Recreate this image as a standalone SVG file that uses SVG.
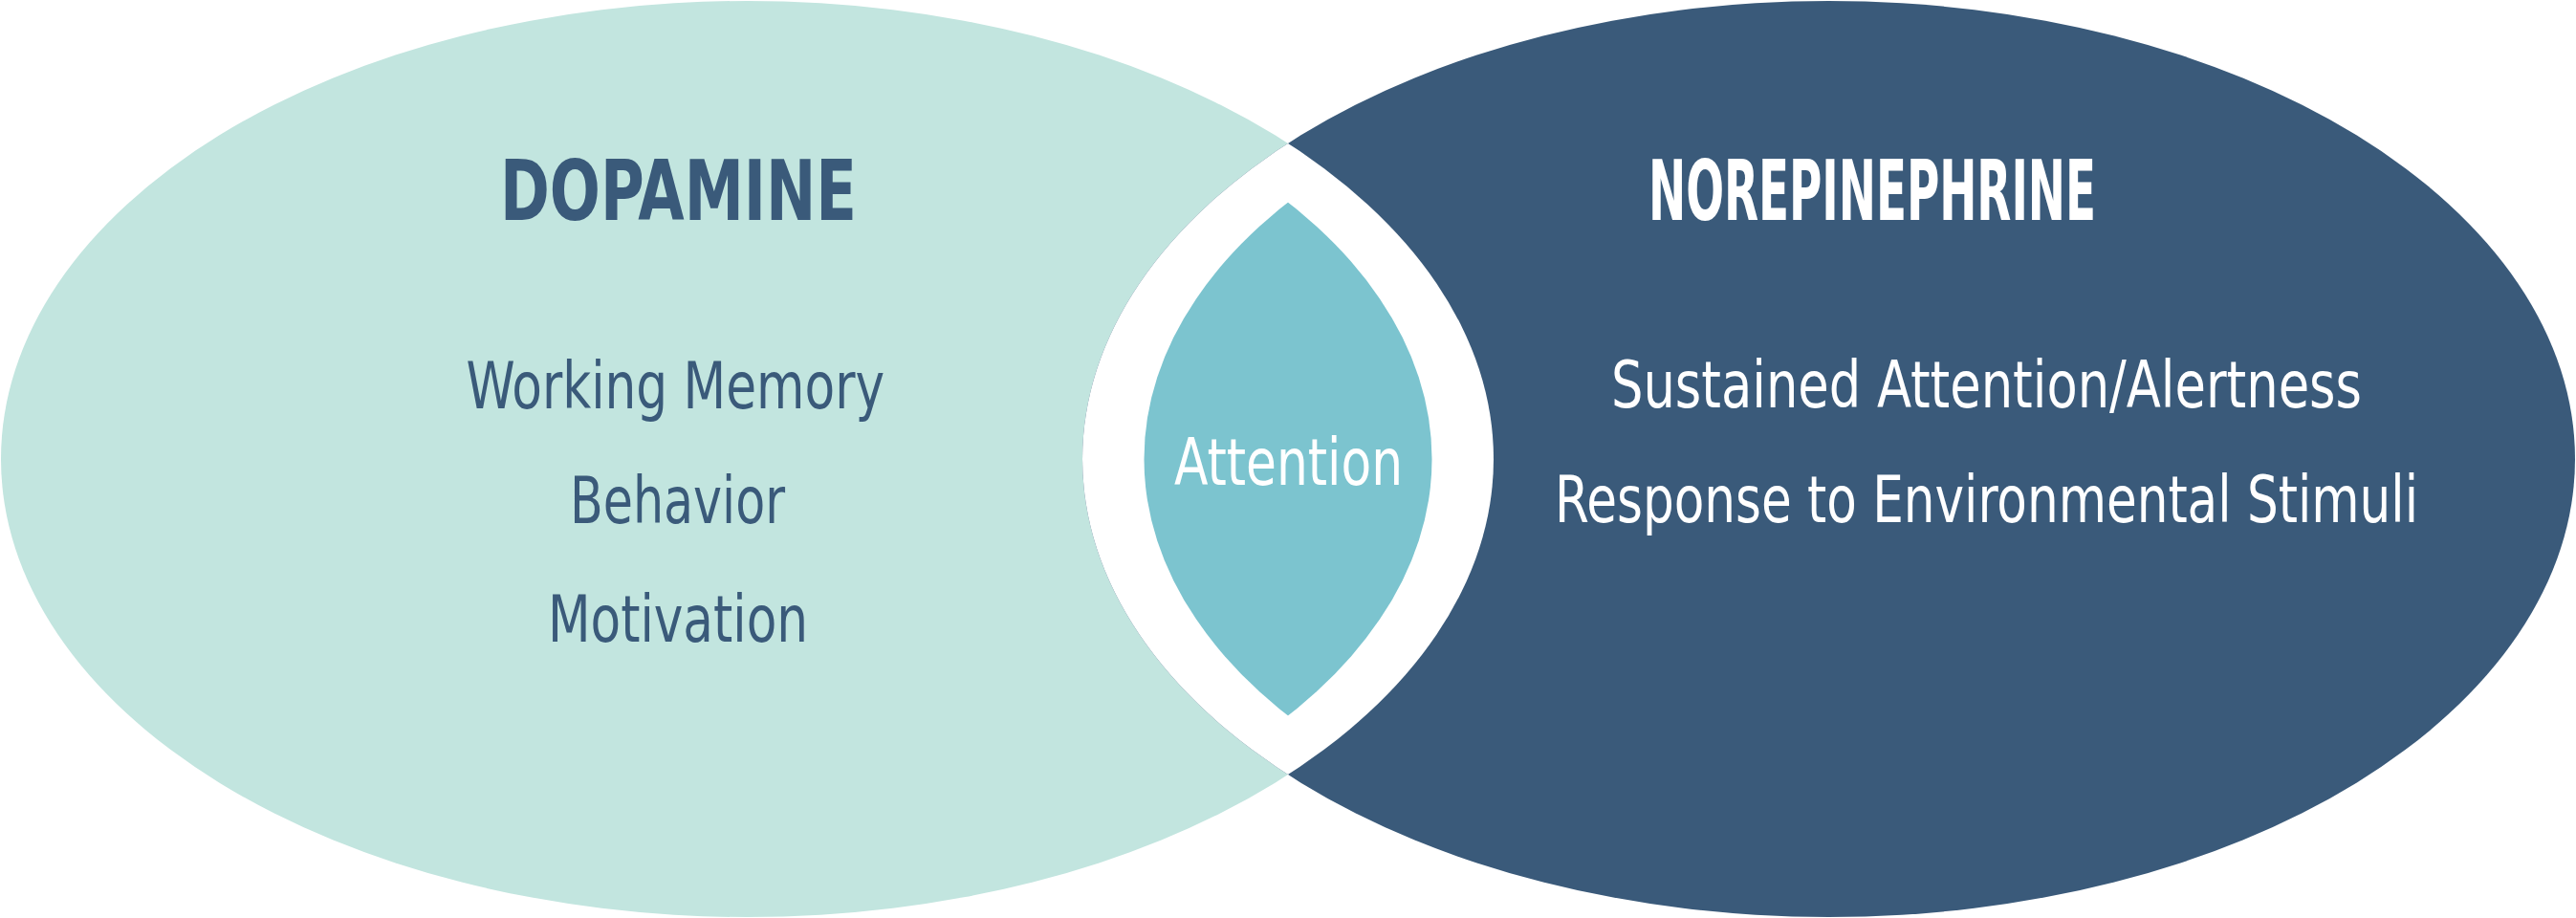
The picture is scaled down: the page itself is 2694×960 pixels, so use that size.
<svg xmlns="http://www.w3.org/2000/svg" width="2694" height="960" viewBox="0 0 2694 960">
  <style>
    .title { font-family: "Liberation Sans Narrow", "DejaVu Sans Condensed", "Liberation Sans", sans-serif; font-weight: bold; font-size: 88px; }
    .item { font-family: "Liberation Sans Narrow", "DejaVu Sans Condensed", "Liberation Sans", sans-serif; font-size: 68px; }
    .dark { fill: #3A5A7A; }
    .light { fill: #FFFFFF; }
  </style>
  <defs>
    <clipPath id="clipLeftOuter">
      <ellipse cx="781.5" cy="480" rx="780.5" ry="479"/>
    </clipPath>
    <clipPath id="clipLeftInner">
      <ellipse cx="781.5" cy="480" rx="716" ry="438"/>
    </clipPath>
  </defs>
  <rect x="0" y="0" width="2694" height="960" fill="#FFFFFF"/>

  <g id="dopamine">
    <ellipse cx="781.5" cy="480" rx="780.5" ry="479" fill="#C2E5DF"/>
  </g>
  <g id="norepinephrine">
    <ellipse cx="1912.5" cy="480" rx="780.5" ry="479" fill="#3A5A7A"/>
  </g>
  <g id="attention">
    <ellipse cx="1912.5" cy="480" rx="780.5" ry="479" fill="#FFFFFF" clip-path="url(#clipLeftOuter)"/>
    <ellipse cx="1912.5" cy="480" rx="716" ry="438" fill="#7CC4CF" clip-path="url(#clipLeftInner)"/>
    <text class="item light" x="1228" y="506.5" textLength="239" lengthAdjust="spacingAndGlyphs">Attention</text>
  </g>

  <g id="dopamine-labels">
    <text class="title dark" x="523" y="230" textLength="373" lengthAdjust="spacingAndGlyphs">DOPAMINE</text>
    <text class="item dark" x="487.5" y="426.5" textLength="437.5" lengthAdjust="spacingAndGlyphs">Working Memory</text>
    <text class="item dark" x="596" y="546.5" textLength="225" lengthAdjust="spacingAndGlyphs">Behavior</text>
    <text class="item dark" x="573" y="670.5" textLength="272" lengthAdjust="spacingAndGlyphs">Motivation</text>
  </g>
  <g id="norepinephrine-labels">
    <text class="title light" x="1724" y="230" textLength="468" lengthAdjust="spacingAndGlyphs">NOREPINEPHRINE</text>
    <text class="item light" x="1685" y="426" textLength="785" lengthAdjust="spacingAndGlyphs">Sustained Attention/Alertness</text>
    <text class="item light" x="1626" y="546" textLength="903" lengthAdjust="spacingAndGlyphs">Response to Environmental Stimuli</text>
  </g>
</svg>
